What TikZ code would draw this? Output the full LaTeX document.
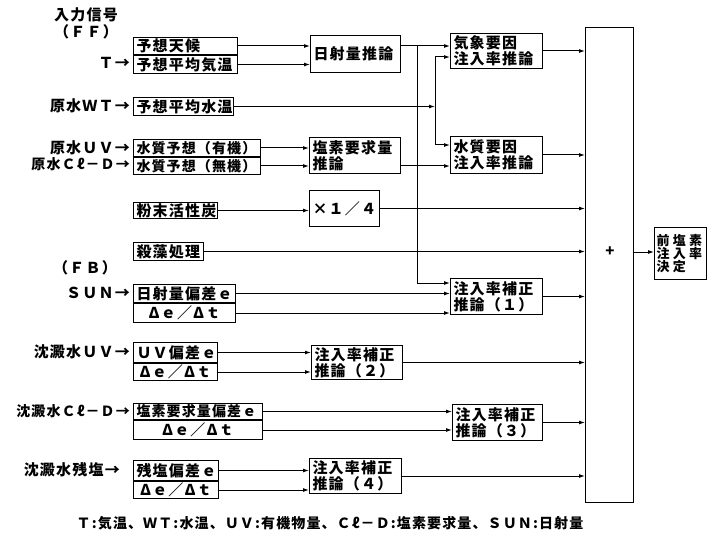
\documentclass[tikz,border=0pt]{standalone}
\usepackage{fontspec}
\newfontfamily\jpfont[LetterSpace=8]{Noto Sans CJK JP}
\newfontfamily\jpwide[LetterSpace=25]{Noto Sans CJK JP}
\usetikzlibrary{arrows.meta,calc}
\newcommand\jptext{\jpfont\bfseries\fontsize{15}{16}\selectfont}
\newcommand\jpsmall{\jpfont\bfseries\fontsize{14}{16}\selectfont}

\begin{document}
\begin{tikzpicture}[
    x=1pt, y=-1pt,
    box/.style={draw, line width=1pt, inner xsep=3pt, inner ysep=0pt, anchor=north west, align=left, font=\jptext},
    cbox/.style={box, align=center},
    arr/.style={-{Latex[length=6pt,width=4pt]}, line width=1pt},
    lbl/.style={anchor=east, inner sep=0pt, font=\jptext}
]
\useasboundingbox (0,0) rectangle (709,556);

% feed-forward inputs
\node[font=\jptext] (ffhead) at (86,15) {入力信号};
\node[font=\jptext] (ff) at (86,32) {（ＦＦ）};
\node[box, text width=98pt, minimum height=17pt] (wx) at (133,37) {予想天候};
\node[box, text width=98pt, minimum height=18pt] (tmp) at (wx.south west) {予想平均気温};
\node[box, text width=94pt, minimum height=18pt] (wt) at (133,97) {予想平均水温};
\node[box, text width=121pt, minimum height=17pt, font=\jpsmall] (uvq1) at (133,139) {水質予想（有機）};
\node[box, text width=121pt, minimum height=17pt, font=\jpsmall] (uvq2) at (uvq1.south west) {水質予想（無機）};
\node[box, text width=78pt, minimum height=16pt] (pac) at (133,202) {粉末活性炭};
\node[box, text width=64pt, minimum height=18pt] (alg) at (133,242) {殺藻処理};

\node[lbl] (lt) at (130,63) {Ｔ→};
\node[lbl] (lwt) at (130,106) {原水ＷＴ→};
\node[lbl] (luv) at (130,147.5) {原水ＵＶ→};
\node[lbl, font=\jpsmall] (lcl) at (130,164.5) {原水Ｃℓ－Ｄ→};

% feedback inputs
\node[font=\jptext] (fb) at (85,268) {（ＦＢ）};
\node[box, text width=96pt, minimum height=18pt] (sun) at (133,284) {日射量偏差ｅ};
\node[cbox, text width=96pt, minimum height=19pt] (sund) at (sun.south west) {Δｅ／Δｔ};
\node[box, text width=78pt, minimum height=20pt] (uv) at (133,342) {ＵＶ偏差ｅ};
\node[cbox, text width=78pt, minimum height=17pt] (uvd) at (uv.south west) {Δｅ／Δｔ};
\node[box, text width=123pt, minimum height=16pt, font=\jpsmall] (cl) at (133,403) {塩素要求量偏差ｅ};
\node[cbox, text width=123pt, minimum height=19pt] (cld) at (cl.south west) {Δｅ／Δｔ};
\node[box, text width=79pt, minimum height=20pt] (rc) at (133,460) {残塩偏差ｅ};
\node[cbox, text width=79pt, minimum height=17pt] (rcd) at (rc.south west) {Δｅ／Δｔ};

\node[lbl] (lsun) at (130,293) {ＳＵＮ→};
\node[lbl] (luv2) at (130,352) {沈澱水ＵＶ→};
\node[lbl, font=\jpsmall] (lcl2) at (130,411) {沈澱水Ｃℓ－Ｄ→};
\node[lbl] (lrc) at (120,470) {沈澱水残塩→};

% inference blocks
\node[box, text width=84pt, minimum height=37pt] (sol) at (310,35) {日射量推論};
\node[box, text width=85pt, minimum height=36pt] (clreq) at (309,137) {塩素要求量\\推論};
\node[box, text width=64pt, minimum height=36pt] (quarter) at (309,190) {×１／４};
\node[box, text width=86pt, minimum height=35pt] (met) at (450,33) {気象要因\\注入率推論};
\node[box, text width=86pt, minimum height=37pt] (wq) at (450,136) {水質要因\\注入率推論};
\node[box, text width=86pt, minimum height=36pt] (c1) at (450,278) {注入率補正\\推論（１）};
\node[box, text width=85pt, minimum height=34pt] (c2) at (311,345) {注入率補正\\推論（２）};
\node[box, text width=84pt, minimum height=36pt] (c3) at (452,404) {注入率補正\\推論（３）};
\node[box, text width=86pt, minimum height=35pt] (c4) at (309,458) {注入率補正\\推論（４）};

% sum and result
\node[draw, line width=1pt, minimum width=48pt, minimum height=475pt, anchor=north west] (sum) at (585,27) {};
\node[font=\jptext] (plus) at (610,252) {+};
\node[box, inner xsep=2pt, text width=48pt, minimum height=52pt, font=\jpwide\bfseries\fontsize{13}{13}\selectfont] (out) at (654,227) {前塩素\\注入率\\決定};

\node[font=\jpfont\bfseries\fontsize{14}{14}\selectfont] (note) at (330,523) {Ｔ:気温、ＷＴ:水温、ＵＶ:有機物量、Ｃℓ－Ｄ:塩素要求量、ＳＵＮ:日射量};

% bus lines
\coordinate (busA) at (417,0);
\coordinate (busB) at (435,0);
\coordinate (solout) at (sol.east |- wx.east);
\coordinate (metin) at ($(met.north west)+(0,24)$);
\coordinate (wqin) at ($(wq.north west)+(0,9)$);
\coordinate (c1in) at ($(c1.north west)+(0,5)$);

\draw[arr] (wx.east) -- (wx.east -| sol.west);
\draw[arr] (tmp.east) -- (tmp.east -| sol.west);
\draw[arr] (solout) -- (solout -| met.west);
\draw[arr] (solout -| busA) |- (c1in);
\draw[arr] (wt.east) -- (wt.east -| busB);
\draw[arr] (wt.east -| busB) |- (metin);
\draw[arr] (wt.east -| busB) |- (wqin);
\draw[arr] (uvq1.east) -- (uvq1.east -| clreq.west);
\draw[arr] (uvq2.east) -- (uvq2.east -| clreq.west);
\draw[arr] (clreq.east |- uvq2.east) -- (uvq2.east -| wq.west);
\draw[arr] (pac.east) -- (pac.east -| quarter.west);

\draw[arr] (sun.east) -- (sun.east -| c1.west);
\draw[arr] (sund.east) -- (sund.east -| c1.west);
\draw[arr] (uv.east) -- (uv.east -| c2.west);
\draw[arr] (uvd.east) -- (uvd.east -| c2.west);
\draw[arr] (cl.east) -- (cl.east -| c3.west);
\draw[arr] (cld.east) -- (cld.east -| c3.west);
\draw[arr] (rc.east) -- (rc.east -| c4.west);
\draw[arr] (rcd.east) -- (rcd.east -| c4.west);

% into the sum
\foreach \src in {met,wq,quarter,alg,c1,c2,c3,c4}
  \draw[arr] (\src.east) -- (\src.east -| sum.west);
\draw[arr] (sum.east |- plus) -- (plus -| out.west);
\end{tikzpicture}
\end{document}
